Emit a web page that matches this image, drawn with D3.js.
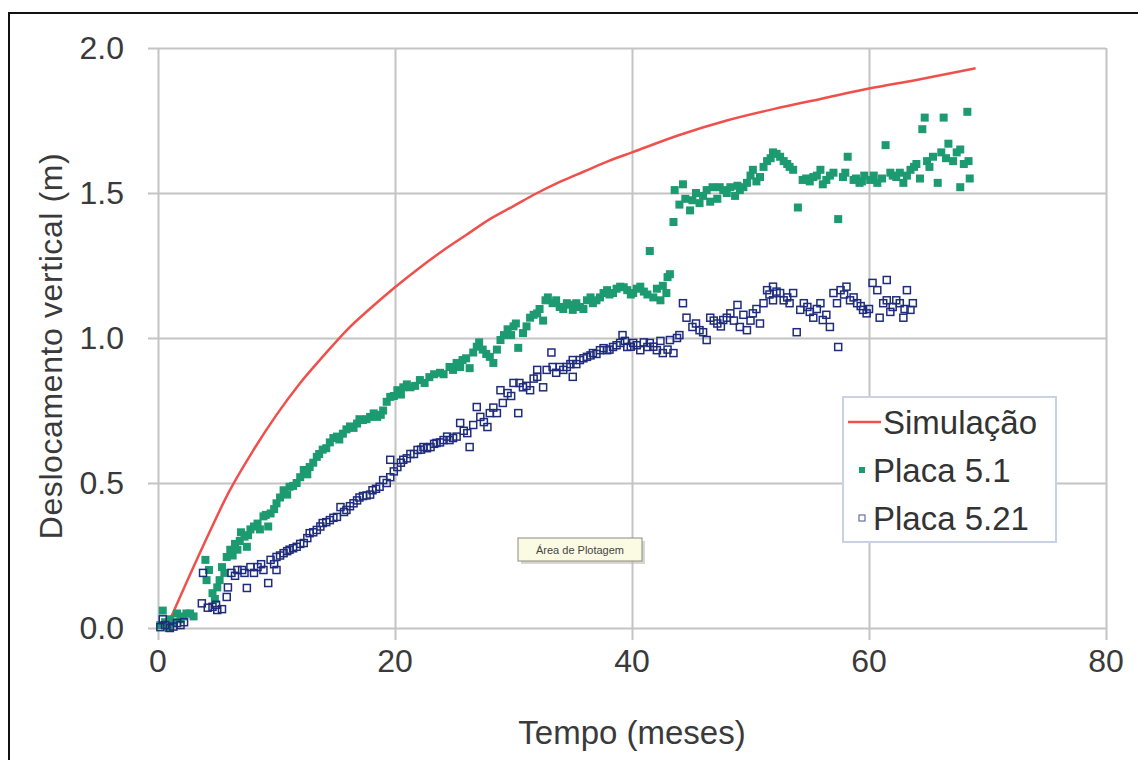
<!doctype html>
<html lang="pt">
  <head>
    <meta charset="UTF-8" />
    <title>Deslocamento vertical</title>
    <script src="https://unpkg.com/d3@7.9.0/dist/d3.min.js"></script>
    <style>
      body {
        margin: 0;
        background: #fff;
        font-family: 'Liberation Sans', Arial, sans-serif;
      }
      text {
        font-family: 'Liberation Sans', Arial, sans-serif;
      }
      .tick-label,
      .axis-title {
        fill: #3a3a3a;
      }
      .axis-title {
        text-anchor: middle;
      }
      .legend text {
        fill: #333;
      }
    </style>
  </head>
  <body>
    <svg width="1138" height="760"></svg>

    <script>
      // curva da simulação [meses, m]
      const simulacao = [
        [0.7, 0.0], [2, 0.12], [4, 0.30], [6, 0.47], [8, 0.61],
        [10, 0.735], [12, 0.845], [14, 0.94], [16, 1.03], [18, 1.105],
        [20, 1.175], [22, 1.24], [24, 1.30], [26, 1.355], [28, 1.41],
        [30, 1.455], [32, 1.50], [34, 1.54], [36, 1.575], [38, 1.61],
        [40, 1.64], [44, 1.70], [48, 1.75], [52, 1.79], [56, 1.825],
        [60, 1.86], [64, 1.89], [69, 1.93],
      ];

      // Placa 5.1 (quadrados cheios)
      const placa51 = [
        [0.2, 0.01], [0.4, 0.06], [0.6, 0.02], [0.9, 0.0], [1.0, 0.03],
        [1.3, 0.02], [1.6, 0.05], [1.9, 0.03], [2.1, 0.04], [2.4, 0.05],
        [2.7, 0.05], [3.0, 0.04],
        [4.0, 0.235], [4.1, 0.165], [4.3, 0.20], [4.6, 0.12], [4.8, 0.10],
        [5.0, 0.14], [5.2, 0.165], [5.4, 0.21], [5.6, 0.19], [5.8, 0.245],
        [6.1, 0.27], [6.3, 0.25], [6.5, 0.29], [6.7, 0.27], [6.9, 0.30],
        [7.0, 0.33], [7.3, 0.315], [7.5, 0.28], [7.6, 0.32], [7.8, 0.34],
        [8.1, 0.35], [8.4, 0.36], [8.6, 0.34], [8.9, 0.385], [9.1, 0.39],
        [9.3, 0.35], [9.5, 0.395], [9.8, 0.41], [10.0, 0.43], [10.3, 0.45],
        [10.6, 0.475], [10.9, 0.46], [11.1, 0.487], [11.4, 0.49], [11.7, 0.50],
        [12.0, 0.52], [12.3, 0.545], [12.6, 0.53], [12.8, 0.555], [13.1, 0.57],
        [13.4, 0.59], [13.6, 0.60], [13.9, 0.615], [14.2, 0.62], [14.5, 0.64],
        [14.8, 0.655], [15.1, 0.66], [15.3, 0.65], [15.6, 0.67], [15.9, 0.685],
        [16.2, 0.695], [16.5, 0.69], [16.8, 0.705], [17.0, 0.72], [17.3, 0.717],
        [17.6, 0.72], [17.9, 0.728], [18.2, 0.74], [18.5, 0.728], [18.8, 0.735],
        [19.0, 0.75], [19.3, 0.78], [19.6, 0.797], [19.9, 0.80], [20.2, 0.82],
        [20.5, 0.805], [20.7, 0.83], [21.0, 0.84], [21.3, 0.83], [21.7, 0.835],
        [22.1, 0.855], [22.5, 0.845], [22.9, 0.865], [23.3, 0.875], [23.8, 0.88],
        [24.1, 0.875], [24.6, 0.90], [24.9, 0.89], [25.2, 0.914], [25.5, 0.90],
        [25.7, 0.924], [26.0, 0.93], [26.3, 0.896], [26.6, 0.95], [26.9, 0.97],
        [27.1, 0.985], [27.4, 0.96], [27.7, 0.945], [28.0, 0.935], [28.3, 0.914],
        [28.6, 0.96], [28.9, 0.993], [29.2, 1.01], [29.5, 1.03], [29.8, 1.01],
        [30.0, 1.04], [30.2, 1.05], [30.4, 0.966], [30.8, 1.017], [31.1, 1.04],
        [31.4, 1.07], [31.7, 1.08], [32.0, 1.085], [32.2, 1.10], [32.5, 1.06],
        [32.7, 1.13], [32.9, 1.14], [33.3, 1.12], [33.6, 1.13], [33.9, 1.107],
        [34.2, 1.10], [34.5, 1.12], [34.8, 1.115], [35.0, 1.097], [35.3, 1.12],
        [35.6, 1.107], [35.9, 1.10], [36.2, 1.13], [36.5, 1.14], [36.7, 1.12],
        [37.0, 1.13], [37.3, 1.14], [37.6, 1.155], [37.9, 1.165], [38.1, 1.15],
        [38.4, 1.155], [38.7, 1.17], [39.0, 1.177], [39.3, 1.175], [39.6, 1.165],
        [39.9, 1.15], [40.1, 1.155], [40.4, 1.17], [40.7, 1.177], [41.0, 1.16],
        [41.3, 1.15], [41.5, 1.30], [41.8, 1.14], [42.1, 1.17], [42.4, 1.13],
        [42.6, 1.18], [42.9, 1.155], [43.0, 1.21], [43.2, 1.22],
        [43.5, 1.40], [43.6, 1.51], [44.0, 1.46], [44.3, 1.53], [44.5, 1.48],
        [44.9, 1.44], [45.1, 1.475], [45.4, 1.50], [45.7, 1.465], [46.0, 1.49],
        [46.3, 1.51], [46.6, 1.47], [46.8, 1.52], [47.2, 1.48], [47.4, 1.52],
        [47.7, 1.51], [48.0, 1.50], [48.3, 1.52], [48.7, 1.49], [48.9, 1.525],
        [49.1, 1.51], [49.4, 1.52], [49.7, 1.535], [50.0, 1.56], [50.2, 1.58],
        [50.5, 1.54], [50.8, 1.555], [51.1, 1.59], [51.4, 1.61], [51.7, 1.62],
        [51.9, 1.64], [52.2, 1.635], [52.5, 1.625], [52.8, 1.61], [53.1, 1.60],
        [53.3, 1.59], [53.6, 1.58], [54.0, 1.45], [54.4, 1.545], [54.7, 1.55],
        [55.0, 1.54], [55.3, 1.555], [55.6, 1.56], [55.9, 1.58], [56.1, 1.53],
        [56.4, 1.545], [56.7, 1.56], [57.0, 1.57], [57.4, 1.41], [57.8, 1.555],
        [58.0, 1.57], [58.2, 1.625], [58.7, 1.545], [58.9, 1.55], [59.2, 1.535],
        [59.4, 1.54], [59.6, 1.56], [60.1, 1.545], [60.4, 1.56], [60.7, 1.535],
        [61.1, 1.55], [61.4, 1.665], [61.8, 1.57], [62.0, 1.56], [62.3, 1.555],
        [62.6, 1.57], [62.9, 1.535], [63.2, 1.56], [63.5, 1.58], [63.8, 1.59],
        [64.0, 1.60], [64.3, 1.55], [64.5, 1.72], [64.7, 1.76], [64.9, 1.61],
        [65.1, 1.59], [65.4, 1.625], [65.8, 1.535], [66.1, 1.64], [66.3, 1.76],
        [66.5, 1.62], [66.7, 1.67], [67.1, 1.61], [67.4, 1.64], [67.7, 1.65],
        [67.7, 1.52], [68.0, 1.60], [68.3, 1.78], [68.4, 1.61], [68.5, 1.55],
      ];

      // Placa 5.21 (quadrados vazios)
      const placa521 = [
        [0.2, 0.003], [0.4, 0.03], [0.6, 0.01], [1.0, 0.0], [1.3, 0.005],
        [1.6, 0.017], [1.9, 0.01], [2.2, 0.02],
        [3.7, 0.085], [3.8, 0.19], [4.2, 0.07], [4.6, 0.073], [4.9, 0.08],
        [5.0, 0.062], [5.4, 0.065], [5.8, 0.107], [5.9, 0.14], [6.2, 0.19],
        [6.5, 0.18], [6.7, 0.2], [7.1, 0.2], [7.3, 0.19], [7.5, 0.138],
        [7.8, 0.21], [8.1, 0.19], [8.4, 0.21], [8.7, 0.22], [8.9, 0.2],
        [9.3, 0.155], [9.5, 0.235], [9.8, 0.22], [10.0, 0.2], [10.0, 0.245],
        [10.3, 0.25], [10.6, 0.258], [10.9, 0.265], [11.1, 0.27], [11.4, 0.275],
        [11.7, 0.28], [12.0, 0.29], [12.3, 0.293], [12.6, 0.31], [12.8, 0.327],
        [13.1, 0.33], [13.4, 0.338], [13.7, 0.35], [13.9, 0.362], [14.2, 0.365],
        [14.5, 0.372], [14.8, 0.38], [15.1, 0.383], [15.4, 0.417], [15.7, 0.40],
        [15.9, 0.407], [16.2, 0.42], [16.5, 0.43], [16.8, 0.44], [17.0, 0.45],
        [17.3, 0.455], [17.6, 0.457], [17.9, 0.46], [18.1, 0.475], [18.4, 0.48],
        [18.7, 0.487], [19.0, 0.51], [19.3, 0.50], [19.6, 0.52], [19.6, 0.58],
        [19.9, 0.54], [20.2, 0.555], [20.5, 0.57], [20.7, 0.58], [21.0, 0.585],
        [21.3, 0.60], [21.6, 0.60], [21.9, 0.614], [22.2, 0.615], [22.4, 0.624],
        [22.7, 0.62], [23.0, 0.624], [23.3, 0.635], [23.5, 0.638], [23.8, 0.64],
        [24.1, 0.648], [24.4, 0.66], [24.6, 0.648], [24.9, 0.655], [25.2, 0.66],
        [25.5, 0.707], [25.8, 0.68], [26.1, 0.672], [26.3, 0.624], [26.6, 0.70],
        [26.9, 0.762], [27.2, 0.728], [27.5, 0.71], [27.8, 0.693], [28.0, 0.741],
        [28.3, 0.76], [28.6, 0.741], [28.9, 0.82], [29.1, 0.776], [29.5, 0.81],
        [29.8, 0.80], [30.0, 0.845], [30.4, 0.741], [30.5, 0.845], [30.8, 0.83],
        [31.1, 0.835], [31.4, 0.82], [31.7, 0.86], [32.0, 0.866], [32.0, 0.89],
        [32.5, 0.83], [32.8, 0.89], [33.2, 0.95], [33.3, 0.90], [33.6, 0.88],
        [33.9, 0.90], [34.2, 0.89], [34.5, 0.90], [34.8, 0.91], [35.0, 0.866],
        [35.0, 0.924], [35.3, 0.91], [35.6, 0.924], [35.9, 0.93], [36.2, 0.935],
        [36.5, 0.94], [36.7, 0.948], [37.0, 0.945], [37.3, 0.958], [37.6, 0.965],
        [37.9, 0.958], [38.1, 0.96], [38.4, 0.969], [38.7, 0.975], [39.0, 0.983],
        [39.2, 1.01], [39.4, 0.99], [39.6, 0.969], [39.9, 0.97], [40.1, 0.983],
        [40.4, 0.975], [40.7, 0.958], [41.0, 0.985], [41.3, 0.969], [41.5, 0.983],
        [41.8, 0.97], [42.1, 0.958], [42.4, 0.99], [42.6, 0.948], [43.0, 0.96],
        [43.2, 0.993], [43.5, 0.948], [43.8, 1.00], [44.0, 1.01],
        [44.3, 1.12], [44.6, 1.07], [45.1, 1.038], [45.4, 1.05], [45.7, 1.027],
        [46.0, 1.02], [46.3, 0.993], [46.6, 1.07], [46.9, 1.06], [47.2, 1.05],
        [47.5, 1.04], [47.7, 1.062], [48.0, 1.07], [48.3, 1.085], [48.6, 1.06],
        [48.9, 1.114], [49.1, 1.038], [49.4, 1.08], [49.7, 1.027], [50.0, 1.06],
        [50.2, 1.085], [50.5, 1.10], [50.8, 1.05], [51.1, 1.12], [51.4, 1.165],
        [51.6, 1.15], [51.9, 1.177], [51.9, 1.13], [52.2, 1.16], [52.5, 1.155],
        [52.8, 1.13], [53.1, 1.14], [53.3, 1.12], [53.6, 1.155], [53.9, 1.02],
        [54.2, 1.097], [54.5, 1.12], [54.8, 1.107], [55.0, 1.09], [55.3, 1.07],
        [55.6, 1.10], [55.9, 1.12], [56.1, 1.062], [56.4, 1.08], [56.7, 1.038],
        [57.0, 1.155], [57.3, 1.12], [57.4, 0.969], [57.6, 1.165], [57.9, 1.15],
        [58.1, 1.177], [58.4, 1.13], [58.7, 1.14], [59.0, 1.12], [59.3, 1.11],
        [59.5, 1.097], [59.8, 1.085], [60.0, 1.10], [60.3, 1.19], [60.7, 1.165],
        [60.9, 1.07], [61.2, 1.12], [61.5, 1.20], [61.5, 1.13], [61.8, 1.09],
        [62.0, 1.107], [62.3, 1.13], [62.6, 1.12], [62.9, 1.07], [63.0, 1.10],
        [63.2, 1.165], [63.5, 1.097], [63.7, 1.12],
      ];

      const xTicks = [0, 20, 40, 60, 80];
      const yTicks = [0, 0.5, 1.0, 1.5, 2.0];
      const legendLabels = ['Simulação', 'Placa 5.1', 'Placa 5.21'];

      const svg = d3.select('svg');
      const margin = { top: 48, left: 158, right: 32, bottom: 132 };
      const innerWidth = 1138 - margin.left - margin.right,
        innerHeight = 760 - margin.top - margin.bottom;

      const cRed = '#f0504c',
        cGreen = '#1c9a70',
        cBlue = '#1f2c7c',
        cGrid = '#c4c4c4';

      // moldura preta (a imagem original está recortada à direita e em baixo)
      svg.append('line')
        .attr('x1', 9).attr('x2', 9)
        .attr('y1', 12).attr('y2', 760)
        .attr('stroke', '#111').attr('stroke-width', 2);
      svg.append('line')
        .attr('x1', 8).attr('x2', 1138)
        .attr('y1', 13).attr('y2', 13)
        .attr('stroke', '#111').attr('stroke-width', 2);

      const g = svg.append('g')
        .attr('transform', `translate(${margin.left},${margin.top})`);

      const x = d3.scaleLinear().domain([0, 80]).range([0, innerWidth]);
      const y = d3.scaleLinear().domain([0, 2]).range([innerHeight, 0]);

      // grade + marcas, desenhadas com os eixos do d3
      g.append('g')
        .call(d3.axisLeft(y).tickValues(yTicks).tickSize(-innerWidth - 10).tickFormat(''))
        .attr('transform', 'translate(-10,0)')
        .call((a) => a.select('.domain').remove())
        .call((a) => a.selectAll('.tick line')
          .attr('x2', innerWidth + 10)
          .attr('stroke', cGrid)
          .attr('stroke-width', 2));
      g.append('g')
        .call(d3.axisBottom(x).tickValues(xTicks).tickSize(-innerHeight - 12).tickFormat(''))
        .attr('transform', `translate(0,${innerHeight + 12})`)
        .call((a) => a.select('.domain').remove())
        .call((a) => a.selectAll('.tick line')
          .attr('stroke', cGrid)
          .attr('stroke-width', 2));

      // rótulos dos eixos
      const fmtX = d3.format('d'),
        fmtY = d3.format('.1f');
      g.append('g')
        .selectAll('text')
        .data(xTicks)
        .join('text')
        .attr('class', 'tick-label')
        .attr('x', (d) => x(d))
        .attr('y', innerHeight + 44)
        .attr('text-anchor', 'middle')
        .attr('font-size', 32)
        .text(fmtX);
      g.append('g')
        .selectAll('text')
        .data(yTicks)
        .join('text')
        .attr('class', 'tick-label')
        .attr('x', -34)
        .attr('y', (d) => y(d) + 11)
        .attr('text-anchor', 'end')
        .attr('font-size', 32)
        .text(fmtY);

      // títulos
      svg.append('text')
        .attr('class', 'axis-title')
        .attr('x', 632)
        .attr('y', 744)
        .attr('font-size', 33)
        .text('Tempo (meses)');

      svg.append('text')
        .attr('class', 'axis-title')
        .attr('transform', `translate(62,346) rotate(-90)`)
        .attr('font-size', 32)
        .style('letter-spacing', '0.6px')
        .text('Deslocamento vertical (m)');

      // séries
      const line = d3.line()
        .x((d) => x(d[0]))
        .y((d) => y(d[1]))
        .curve(d3.curveMonotoneX);

      g.append('path')
        .datum(simulacao)
        .attr('d', line)
        .attr('fill', 'none')
        .attr('stroke', cRed)
        .attr('stroke-width', 2.5);

      const s1 = 8;
      g.append('g')
        .selectAll('rect')
        .data(placa51)
        .join('rect')
        .attr('x', (d) => x(d[0]) - s1 / 2)
        .attr('y', (d) => y(d[1]) - s1 / 2)
        .attr('width', s1)
        .attr('height', s1)
        .attr('fill', cGreen);

      const s2 = 7;
      g.append('g')
        .selectAll('rect')
        .data(placa521)
        .join('rect')
        .attr('x', (d) => x(d[0]) - s2 / 2)
        .attr('y', (d) => y(d[1]) - s2 / 2)
        .attr('width', s2)
        .attr('height', s2)
        .attr('fill', 'none')
        .attr('stroke', cBlue)
        .attr('stroke-width', 1.5);

      // legenda
      const legend = svg.append('g')
        .attr('class', 'legend')
        .attr('transform', 'translate(843,397)');
      legend.append('rect')
        .attr('width', 213)
        .attr('height', 145)
        .attr('fill', '#fff')
        .attr('stroke', '#c9d2e2')
        .attr('stroke-width', 2);

      legendLabels.forEach((key, i) => {
        const row = legend.append('g')
          .attr('transform', `translate(0,${25 + i * 48})`);
        if (i === 0) {
          row.append('line')
            .attr('x1', 5).attr('x2', 38)
            .attr('stroke', cRed).attr('stroke-width', 2.5);
        } else if (i === 1) {
          row.append('rect')
            .attr('x', 16).attr('y', -3)
            .attr('width', 6).attr('height', 6)
            .attr('fill', cGreen);
        } else {
          row.append('rect')
            .attr('x', 16).attr('y', -3)
            .attr('width', 6).attr('height', 6)
            .attr('fill', 'none')
            .attr('stroke', '#66709e')
            .attr('stroke-width', 1.2);
        }
        row.append('text')
          .attr('x', i === 0 ? 40 : 30)
          .attr('y', 12)
          .attr('font-size', 33)
          .text(key);
      });

      // dica "Área de Plotagem"
      const tip = svg.append('g').attr('transform', 'translate(518,538)');
      tip.append('rect')
        .attr('x', 3).attr('y', 3)
        .attr('width', 124).attr('height', 23)
        .attr('fill', '#bdbdb0')
        .attr('opacity', 0.6);
      tip.append('rect')
        .attr('width', 124).attr('height', 23)
        .attr('fill', '#fbfbe4')
        .attr('stroke', '#8c8c80')
        .attr('stroke-width', 1);
      tip.append('text')
        .attr('x', 62).attr('y', 16)
        .attr('text-anchor', 'middle')
        .attr('font-size', 11)
        .attr('fill', '#444')
        .text('Área de Plotagem');
    </script>
  </body>
</html>
